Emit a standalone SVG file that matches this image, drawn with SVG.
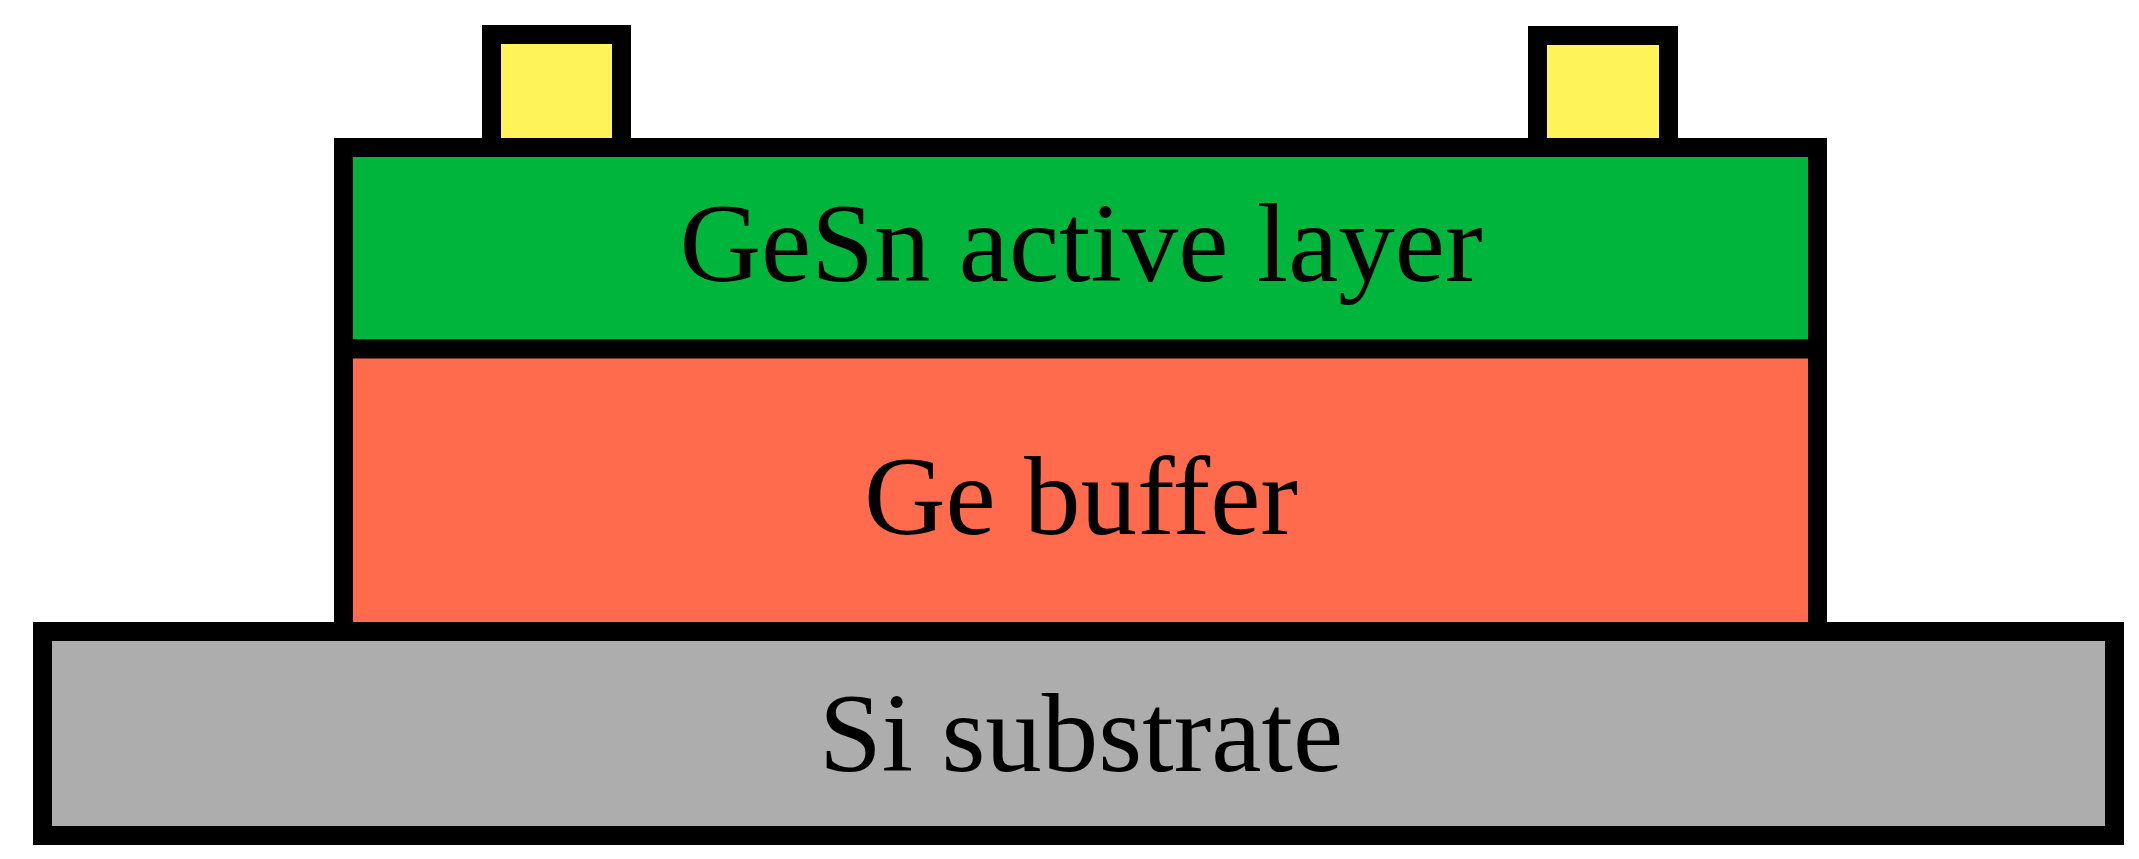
<svg xmlns="http://www.w3.org/2000/svg" width="2139" height="859" viewBox="0 0 2139 859">
<style>
.l{stroke:#000;stroke-width:19}
.t{font-family:"Liberation Serif",serif;font-size:113px;fill:#000;text-anchor:middle}
</style>
<rect width="2139" height="859" fill="#fff"/>
<g id="contact-left"><rect class="l" x="491.5" y="34.5" width="130" height="113" fill="#fff35a"/></g>
<g id="contact-right"><rect class="l" x="1537.5" y="35.5" width="131" height="112" fill="#fff35a"/></g>
<g id="gesn"><rect class="l" x="343.5" y="147.5" width="1474" height="201.5" fill="#00b53c"/><text class="t" x="1081" y="281">GeSn active layer</text></g>
<g id="ge-buffer"><rect class="l" x="343.5" y="349" width="1474" height="283.5" fill="#ff6b4c"/><text class="t" x="1081" y="534">Ge buffer</text></g>
<g id="si"><rect class="l" x="42.5" y="631.5" width="2072" height="204" fill="#adadad"/><text class="t" x="1081" y="771">Si substrate</text></g>
</svg>
